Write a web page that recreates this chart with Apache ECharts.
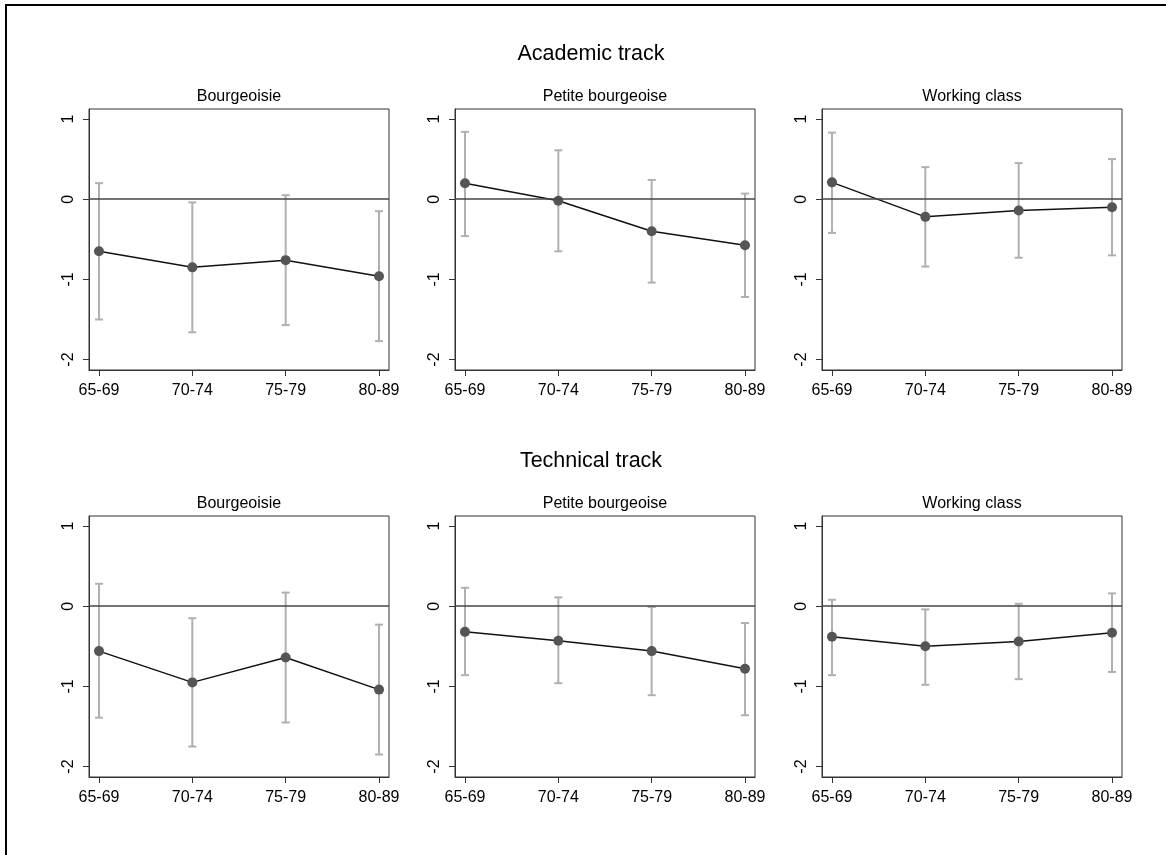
<!DOCTYPE html>
<html>
<head>
<meta charset="utf-8">
<script src="https://cdn.jsdelivr.net/npm/echarts@6/dist/echarts.min.js"></script>
<style>
  html, body { margin: 0; padding: 0; background: #fff; }
  #chart { width: 1166px; height: 855px; position: relative; }
  #frame {
    position: absolute; left: 5px; top: 4px; right: 0; bottom: 0;
    border-left: 2px solid #000; border-top: 2px solid #000;
    pointer-events: none;
  }
</style>
</head>
<body>
<div id="chart"></div>
<div id="frame"></div>
<script>
// cohorts on the x axis
const cohorts = ['65-69', '70-74', '75-79', '80-89']
const yTicks = [-2, -1, 0, 1]
const tracks = ['Academic track', 'Technical track']
const classes = ['Bourgeoisie', 'Petite bourgeoise', 'Working class']

// academic track
const acadBourgEst = [-0.65, -0.85, -0.76, -0.96]
const acadBourgLo = [-1.50, -1.66, -1.57, -1.77]
const acadBourgHi = [0.20, -0.04, 0.05, -0.15]
const acadPetiteEst = [0.20, -0.02, -0.40, -0.575]
const acadPetiteLo = [-0.46, -0.65, -1.04, -1.22]
const acadPetiteHi = [0.84, 0.61, 0.24, 0.07]
const acadWorkEst = [0.21, -0.22, -0.14, -0.10]
const acadWorkLo = [-0.42, -0.84, -0.73, -0.70]
const acadWorkHi = [0.83, 0.40, 0.45, 0.50]

// technical track
const techBourgEst = [-0.56, -0.95, -0.64, -1.04]
const techBourgLo = [-1.39, -1.75, -1.45, -1.85]
const techBourgHi = [0.28, -0.15, 0.17, -0.23]
const techPetiteEst = [-0.32, -0.43, -0.56, -0.78]
const techPetiteLo = [-0.86, -0.96, -1.11, -1.36]
const techPetiteHi = [0.23, 0.11, -0.01, -0.21]
const techWorkEst = [-0.38, -0.50, -0.44, -0.33]
const techWorkLo = [-0.86, -0.98, -0.91, -0.82]
const techWorkHi = [0.08, -0.04, 0.03, 0.16]

const panels = [
  [acadBourgEst, acadBourgLo, acadBourgHi],
  [acadPetiteEst, acadPetiteLo, acadPetiteHi],
  [acadWorkEst, acadWorkLo, acadWorkHi],
  [techBourgEst, techBourgLo, techBourgHi],
  [techPetiteEst, techPetiteLo, techPetiteHi],
  [techWorkEst, techWorkLo, techWorkHi]
]

const FONT = '"Liberation Sans", Arial, sans-serif'
const panelLeft = [89, 455, 822]
const panelTop = [109, 516]
const panelW = 300
const panelH = 261

const grids = []
const xAxes = []
const yAxes = []
const series = []
const graphics = []

tracks.forEach((t, r) => {
  graphics.push({
    type: 'text', x: 591, y: 54 + r * 407,
    style: { text: t, font: '21.5px ' + FONT, fill: '#000', textAlign: 'center', textVerticalAlign: 'middle' }
  })
  classes.forEach((c, k) => {
    const i = r * 3 + k
    graphics.push({
      type: 'text', x: panelLeft[k] + panelW / 2, y: 97 + r * 407,
      style: { text: c, font: '16px ' + FONT, fill: '#000', textAlign: 'center', textVerticalAlign: 'middle' }
    })
    grids.push({
      left: panelLeft[k], top: panelTop[r], width: panelW, height: panelH,
      show: true, borderColor: '#333', borderWidth: 1, backgroundColor: '#fff'
    })
    xAxes.push({
      gridIndex: i, type: 'value', min: 0.893, max: 4.107,
      splitLine: { show: false },
      axisLine: { show: true, onZero: false, lineStyle: { color: '#333', width: 1 } },
      axisTick: { show: true, length: 6, customValues: [1, 2, 3, 4], lineStyle: { color: '#333' } },
      axisLabel: {
        customValues: [1, 2, 3, 4], margin: 13,
        formatter: v => cohorts[Math.round(v) - 1],
        fontFamily: FONT, fontSize: 16, color: '#000'
      }
    })
    yAxes.push({
      gridIndex: i, type: 'value', min: -2.13, max: 1.125,
      splitLine: { show: false },
      axisLine: { show: true, onZero: false, lineStyle: { color: '#333', width: 1 } },
      axisTick: { show: true, length: 6, customValues: yTicks, lineStyle: { color: '#333' } },
      axisLabel: {
        customValues: yTicks, rotate: 90, margin: 12,
        fontFamily: FONT, fontSize: 16, color: '#000'
      }
    })
    const [est, lo, hi] = panels[i]
    // confidence intervals
    series.push({
      type: 'custom', xAxisIndex: i, yAxisIndex: i, z: 2,
      data: cohorts.map((_, j) => [j + 1, lo[j], hi[j]]),
      encode: { x: 0, y: [1, 2] },
      renderItem: (params, api) => {
        const x = api.value(0)
        const top = api.coord([x, api.value(2)])
        const bot = api.coord([x, api.value(1)])
        const w = 4
        const st = { stroke: '#b0b0b0', lineWidth: 2 }
        return {
          type: 'group',
          children: [
            { type: 'line', shape: { x1: top[0], y1: top[1], x2: bot[0], y2: bot[1] }, style: st },
            { type: 'line', shape: { x1: top[0] - w, y1: top[1], x2: top[0] + w, y2: top[1] }, style: st },
            { type: 'line', shape: { x1: bot[0] - w, y1: bot[1], x2: bot[0] + w, y2: bot[1] }, style: st }
          ]
        }
      }
    })
    // point estimates
    series.push({
      type: 'line', xAxisIndex: i, yAxisIndex: i, z: 3,
      data: cohorts.map((_, j) => [j + 1, est[j]]),
      symbol: 'circle', symbolSize: 10,
      itemStyle: { color: '#555' },
      lineStyle: { color: '#111', width: 1.5 },
      markLine: {
        silent: true, symbol: ['none', 'none'], animation: false,
        label: { show: false },
        lineStyle: { color: '#444', width: 1.5, type: 'solid' },
        data: [{ yAxis: 0 }]
      }
    })
  })
})

const myChart = echarts.init(document.getElementById('chart'))
myChart.setOption({
  animation: false,
  grid: grids,
  xAxis: xAxes,
  yAxis: yAxes,
  series: series,
  graphic: graphics
})
</script>
</body>
</html>
